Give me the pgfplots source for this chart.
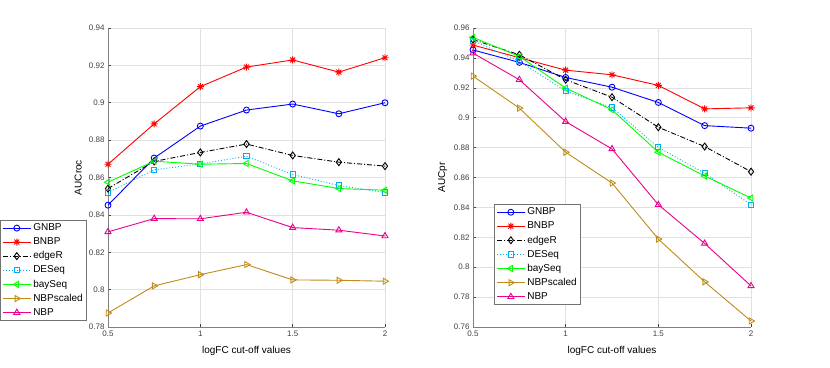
\documentclass[border=0pt]{standalone}
\usepackage{pgfplots}
\pgfplotsset{compat=1.18}
\usepackage{fontspec}
\setmainfont{Liberation Sans}
\definecolor{nbps}{rgb}{0.75,0.55,0.10}
\definecolor{axgray}{rgb}{0.25,0.25,0.25}
\definecolor{gridc}{rgb}{0.88,0.88,0.88}
\pgfdeclareplotmark{mstar}{%
  \pgfpathmoveto{\pgfqpoint{-\pgfplotmarksize}{0pt}}\pgfpathlineto{\pgfqpoint{\pgfplotmarksize}{0pt}}%
  \pgfpathmoveto{\pgfqpoint{0pt}{-\pgfplotmarksize}}\pgfpathlineto{\pgfqpoint{0pt}{\pgfplotmarksize}}%
  \pgfpathmoveto{\pgfqpoint{-0.707\pgfplotmarksize}{-0.707\pgfplotmarksize}}\pgfpathlineto{\pgfqpoint{0.707\pgfplotmarksize}{0.707\pgfplotmarksize}}%
  \pgfpathmoveto{\pgfqpoint{-0.707\pgfplotmarksize}{0.707\pgfplotmarksize}}\pgfpathlineto{\pgfqpoint{0.707\pgfplotmarksize}{-0.707\pgfplotmarksize}}%
  \pgfusepathqstroke}
\pgfplotsset{
  mystyle/.style={
    scale only axis, width=277pt, height=299pt,
    xmin=0.5, xmax=2,
    axis x line*=bottom, axis y line*=left,
    axis line style={color=gray, line width=0.6pt},
    xtick={0.5,1,1.5,2},
    tick align=inside, major tick length=3pt,
    tick style={color=axgray, line width=0.5pt},
    grid=major, major grid style={color=gridc, line width=0.5pt},
    /pgf/number format/assume math mode=true,
    ticklabel style={font=\fontsize{8}{9}\selectfont, color=axgray},
    label style={font=\fontsize{12}{14}\selectfont, color=black!85},
    every axis x label/.style={at={(axis description cs:0.5,-0.08)}, anchor=center},
    legend style={draw=black!55, fill=white, font=\fontsize{10}{11}\selectfont,
      inner xsep=2pt, inner ysep=1.5pt, row sep=1.5pt, line width=0.8pt},
    legend cell align=left,
    legend image code/.code={\draw[mark repeat=2,mark phase=2] plot coordinates {(0pt,0pt)(14pt,0pt)(28pt,0pt)};},
    every axis plot/.append style={line width=0.9pt, mark size=3pt, mark options={solid, fill=none}},
  },
  gnbp/.style={blue, mark=o},
  bnbp/.style={red, mark=mstar, mark size=3.5pt},
  edger/.style={black, dash pattern=on 5pt off 2pt on 1pt off 2pt, mark=diamond, mark size=3.5pt},
  deseq/.style={cyan, dotted, mark=square, mark size=2.6pt},
  bayseq/.style={green, mark=triangle, mark options={solid, fill=none, rotate=90}, mark size=3.5pt},
  nbpscaled/.style={nbps, mark=triangle, mark options={solid, fill=none, rotate=-90}, mark size=3.5pt},
  nbp/.style={magenta, mark=triangle, mark size=3.5pt},
}
\begin{document}
\begin{tikzpicture}
\useasboundingbox (0,0) rectangle (830pt,367pt);
\begin{axis}[mystyle, at={(108pt,40pt)}, anchor=south west,
  ymin=0.78, ymax=0.94, ytick={0.78,0.8,0.82,0.84,0.86,0.88,0.9,0.92,0.94},
  xlabel={logFC cut-off values}, ylabel={AUCroc},
  every axis y label/.style={at={(axis description cs:-0.108,0.5)}, rotate=90, anchor=center},
  legend style={at={(-0.39,0.358)}, anchor=north west}]
\addplot[gnbp] coordinates {(0.5,0.8452)(0.75,0.8704)(1,0.8875)(1.25,0.8961)(1.5,0.8993)(1.75,0.8941)(2,0.9000)};
\addplot[bnbp] coordinates {(0.5,0.8671)(0.75,0.8887)(1,0.9086)(1.25,0.9191)(1.5,0.9229)(1.75,0.9164)(2,0.9241)};
\addplot[edger] coordinates {(0.5,0.8541)(0.75,0.8686)(1,0.8734)(1.25,0.8779)(1.5,0.8718)(1.75,0.8682)(2,0.8661)};
\addplot[deseq] coordinates {(0.5,0.8520)(0.75,0.8641)(1,0.8673)(1.25,0.8714)(1.5,0.8616)(1.75,0.8557)(2,0.8520)};
\addplot[bayseq] coordinates {(0.5,0.8575)(0.75,0.8687)(1,0.8671)(1.25,0.8675)(1.5,0.8582)(1.75,0.8541)(2,0.8532)};
\addplot[nbpscaled] coordinates {(0.5,0.7875)(0.75,0.8020)(1,0.8080)(1.25,0.8134)(1.5,0.8052)(1.75,0.8050)(2,0.8045)};
\addplot[nbp] coordinates {(0.5,0.8309)(0.75,0.8380)(1,0.8379)(1.25,0.8414)(1.5,0.8332)(1.75,0.8318)(2,0.8287)};
\legend{GNBP,BNBP,edgeR,DESeq,baySeq,NBPscaled,NBP}
\end{axis}
\begin{axis}[mystyle, at={(473pt,40pt)}, anchor=south west, width=278pt,
  ymin=0.76, ymax=0.96, ytick={0.76,0.78,0.8,0.82,0.84,0.86,0.88,0.9,0.92,0.94,0.96},
  xlabel={logFC cut-off values}, ylabel={AUCpr},
  every axis y label/.style={at={(axis description cs:-0.109,0.5)}, rotate=90, anchor=center},
  legend style={at={(0.0755,0.411)}, anchor=north west}]
\addplot[gnbp] coordinates {(0.5,0.9453)(0.75,0.9370)(1,0.9269)(1.25,0.9204)(1.5,0.9102)(1.75,0.8947)(2,0.8930)};
\addplot[bnbp] coordinates {(0.5,0.9486)(0.75,0.9401)(1,0.9318)(1.25,0.9287)(1.5,0.9216)(1.75,0.9059)(2,0.9066)};
\addplot[edger] coordinates {(0.5,0.9522)(0.75,0.9421)(1,0.9254)(1.25,0.9137)(1.5,0.8936)(1.75,0.8807)(2,0.8639)};
\addplot[deseq] coordinates {(0.5,0.9515)(0.75,0.9377)(1,0.9178)(1.25,0.9068)(1.5,0.8802)(1.75,0.8628)(2,0.8418)};
\addplot[bayseq] coordinates {(0.5,0.9537)(0.75,0.9410)(1,0.9198)(1.25,0.9053)(1.5,0.8769)(1.75,0.8610)(2,0.8463)};
\addplot[nbpscaled] coordinates {(0.5,0.9278)(0.75,0.9064)(1,0.8769)(1.25,0.8563)(1.5,0.8188)(1.75,0.7902)(2,0.7640)};
\addplot[nbp] coordinates {(0.5,0.9432)(0.75,0.9254)(1,0.8974)(1.25,0.8791)(1.5,0.8418)(1.75,0.8159)(2,0.7875)};
\legend{GNBP,BNBP,edgeR,DESeq,baySeq,NBPscaled,NBP}
\end{axis}
\end{tikzpicture}
\end{document}
